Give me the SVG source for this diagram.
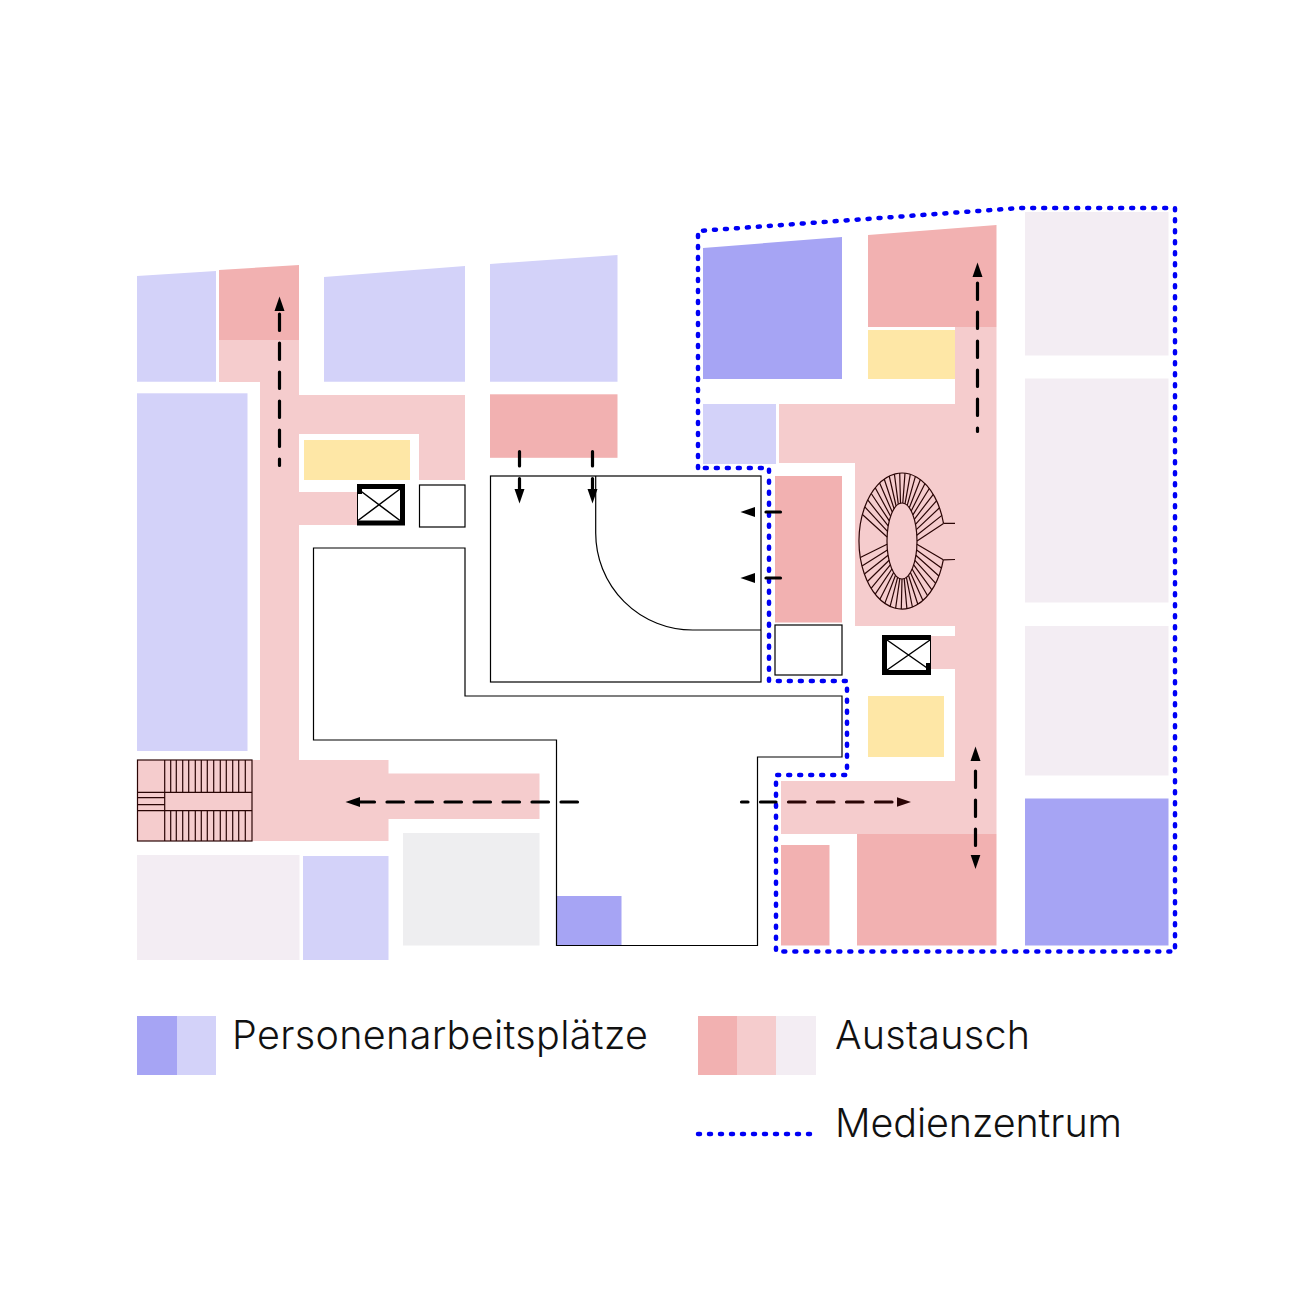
<svg xmlns="http://www.w3.org/2000/svg" width="1299" height="1299" viewBox="0 0 1299 1299">
<style>
.dr{fill:#f2b1b1}.mr{fill:#f5cccd}.lr{fill:#f3edf3}.db{fill:#a6a4f4}.lb{fill:#d3d2f9}.ye{fill:#fee7a6}.gr{fill:#eeeef0}
.ol{fill:none;stroke:#000;stroke-width:1.2}
.wb{fill:#fff;stroke:#000;stroke-width:1.2}
.st{fill:none;stroke:#2a0505;stroke-width:1.2}
.dot{fill:none;stroke:#0000f5;stroke-width:4.5;stroke-dasharray:2 9;stroke-linecap:round;stroke-linejoin:round}
.ar{fill:none;stroke:#000;stroke-width:3.200;stroke-dasharray:16.500 12.500;stroke-linecap:round}
.lab{font-family:"Inter","Liberation Sans",sans-serif;font-weight:300;font-size:39.500px;fill:#111}
</style>
<defs>
<marker id="ah" markerUnits="userSpaceOnUse" markerWidth="15" markerHeight="11" refX="0" refY="5.500" orient="auto-start-reverse"><path d="M0 0.500L14.500 5.500L0 10.500Z" fill="#000"/></marker>
<marker id="ahm" markerUnits="userSpaceOnUse" markerWidth="15" markerHeight="11" refX="0" refY="5.500" orient="auto"><path d="M0 0.500L14.500 5.500L0 10.500Z" fill="#2a0505"/></marker>
</defs>
<rect width="1299" height="1299" fill="#fff"/>
<g id="areas-left">
<polygon class="lb" points="137,276 216,271 216,381.700 137,381.700"/>
<polygon class="dr" points="219,270 299,265 299,340 219,340"/>
<polygon class="lb" points="324,277 465,266 465,381.700 324,381.700"/>
<polygon class="lb" points="490,264 617.500,255 617.500,381.700 490,381.700"/>
<rect class="lb" x="137" y="393.300" width="110.500" height="357.700"/>
<rect class="dr" x="490" y="394.300" width="127.500" height="63.500"/>
<rect class="ye" x="304" y="440" width="106" height="40"/>
<polygon class="mr" points="219,340 299,340 299,395 465,395 465,480 419,480 419,434 299,434 299,492 358,492 358,525 299,525 299,760 388.500,760 388.500,773.500 539.500,773.500 539.500,819 388.500,819 388.500,841 137,841 137,760 260,760 260,382 219,382"/>
<rect class="lr" x="137" y="855" width="162.500" height="105"/>
<rect class="lb" x="303" y="856" width="85.500" height="104"/>
<rect class="gr" x="403" y="833" width="136.500" height="112.500"/>
<rect class="db" x="557" y="896" width="64.500" height="49.500"/>
</g>
<g id="areas-right">
<polygon class="db" points="703,248 842,237 842,379 703,379"/>
<polygon class="dr" points="868,235 996.500,225 996.500,327 868,327"/>
<rect class="ye" x="868" y="330" width="87" height="49"/>
<rect class="lb" x="703" y="404" width="73" height="60"/>
<polygon class="mr" points="779,404 955,404 955,327 996.500,327 996.500,834 781,834 781,781 955,781 955,669 931,669 931,636 955,636 955,626 855,626 855,463 779,463"/>
<rect class="dr" x="775" y="476" width="67" height="146.500"/>
<rect class="ye" x="868" y="696" width="76" height="61"/>
<rect class="dr" x="781" y="845" width="48.500" height="100.500"/>
<rect class="dr" x="857" y="834" width="139.500" height="111.500"/>
<rect class="lr" x="1025" y="212" width="143.500" height="143.500"/>
<rect class="lr" x="1025" y="378.500" width="143.500" height="224"/>
<rect class="lr" x="1025" y="626" width="143.500" height="149.500"/>
<rect class="db" x="1025" y="798.500" width="143.500" height="147"/>
</g>
<g id="rooms">
<path class="ol" d="M313.500 548H465V696H842V757H757.500V945.500H556.500V740H313.500Z"/>
<rect class="ol" x="490.500" y="476" width="270.500" height="206"/>
<path class="ol" d="M595.700 476V533A97 97 0 0 0 692.700 630H761"/>
<rect class="wb" x="419.500" y="485" width="45.500" height="42"/>
<rect class="wb" x="775" y="625" width="67" height="50"/>
</g>
<g id="lift-left">
<rect x="357" y="484" width="48" height="41.500" fill="#000"/>
<path d="M362 489H400V520.500H358V494H362Z" fill="#fff"/>
<path d="M358 489L400 520.500M400 489L358 520.500" stroke="#000" stroke-width="1.500"/>
</g>
<g id="lift-right">
<rect x="882" y="635" width="49" height="40" fill="#000"/>
<path d="M887 640H930V663H926V670H887Z" fill="#fff"/>
<path d="M887 640L930 670M930 640L887 670" stroke="#000" stroke-width="1.500"/>
</g>
<g id="stair-left" class="st">
<rect x="137.500" y="760" width="114.500" height="81"/>
<path d="M164.700 760V841M137.500 792.300H252M137.500 810.700H252M137.500 797.700H164.700M137.500 804.700H164.700"/>
<path d="M170.700 760V792M176.300 760V792M182.700 760V792M188.700 760V792M195.300 760V792M201.300 760V792M207.300 760V792M213.700 760V792M220.300 760V792M226.300 760V792M232.700 760V792M238.700 760V792M245.300 760V792"/>
<path d="M170.700 811V841M176.300 811V841M182.700 811V841M188.700 811V841M195.300 811V841M201.300 811V841M207.300 811V841M213.700 811V841M220.300 811V841M226.300 811V841M232.700 811V841M238.700 811V841M245.300 811V841"/>
</g>
<g id="stair-spiral" class="st">
<path d="M943.500 523.400A43 68 0 1 0 943.300 559.800"/>
<ellipse cx="902" cy="541" rx="15" ry="38"/>
<path d="M943.500 523.400H955M943.300 559.800L955 559.500"/>
<path d="M862.400 514.500L887.100 537M864.800 506.900L887.500 531.300M867.700 499.900L888.200 525.900M871.200 493.500L889.300 520.800M875.200 487.800L890.600 516.200M879.600 483L892.300 512.100M884.200 479L894.100 508.700M889.200 476L896.100 506M894.400 474.100L898.300 504.200M899.700 473.100L900.500 503.200M905 473.100L902.800 503M910.300 474.300L905 503.800M915.400 476.400L907.200 505.400M920.400 479.500L909.300 507.800M925 483.600L911.200 511M929.300 488.500L912.900 514.900M933.300 494.300L914.300 519.300M936.700 500.700L915.500 524.300M939.500 507.800L916.300 529.600M941.900 515.400L916.800 535.300M943.500 523.400L917 541"/>
<path d="M943.300 559.800L916.900 544.300M941.400 568.100L916.600 549.900M938.900 576L915.900 555.200M935.700 583.400L914.900 560.300M931.900 589.900L913.700 564.900M927.600 595.700L912.100 569M922.900 600.500L910.400 572.500M917.800 604.200L908.500 575.300M912.400 607L906.400 577.300M906.900 608.600L904.200 578.600M901.300 609L902 579M895.600 608.300L899.800 578.600M890.100 606.300L897.600 577.300M884.800 603.400L895.500 575.300M879.900 599.300L893.600 572.500M875.200 594.200L891.900 569M871.100 588.300L890.300 564.900M867.400 581.500L889.100 560.300M864.400 574L888.100 555.200M862 566L887.400 549.900M860.300 557.500L887.100 544.300"/>
</g>
<g id="media-centre">
<path class="dot" d="M698 468V231L1020 208H1175V951.500H776V775H847V681H769V468Z"/>
</g>
<g id="connectors">
<path class="ar" marker-end="url(#ah)" stroke-dashoffset="10" d="M279.500 465.500V311"/>
<path class="ar" marker-end="url(#ah)" stroke-dashoffset="2" d="M519.500 451.500V489"/>
<path class="ar" marker-end="url(#ah)" stroke-dashoffset="2" d="M592.500 451.500V489"/>
<path class="ar" marker-end="url(#ah)" stroke-dashoffset="2" d="M780.500 512H755"/>
<path class="ar" marker-end="url(#ah)" stroke-dashoffset="2" d="M780.500 578H755"/>
<path class="ar" marker-end="url(#ah)" stroke-dashoffset="13" d="M977.500 431.500V277"/>
<path class="ar" marker-start="url(#ah)" marker-end="url(#ah)" stroke-dashoffset="19" d="M975.500 761V854.500"/>
<path class="ar" marker-end="url(#ah)" d="M577.500 802H360"/>
<path class="ar" stroke-dashoffset="10" d="M741.500 802H776"/>
<path class="ar" style="stroke:#2a0505" marker-end="url(#ahm)" d="M788.500 802H896.500"/>
</g>
<g id="legend">
<rect class="db" x="137" y="1016" width="40" height="59"/>
<rect class="lb" x="177" y="1016" width="39" height="59"/>
<text class="lab" x="232" y="1049" textLength="416">Personenarbeitsplätze</text>
<rect class="dr" x="698" y="1016" width="39" height="59"/>
<rect class="mr" x="737" y="1016" width="39" height="59"/>
<rect class="lr" x="776" y="1016" width="40" height="59"/>
<text class="lab" x="835" y="1049" textLength="195">Austausch</text>
<path class="dot" d="M698 1134H813"/>
<text class="lab" x="835" y="1137" textLength="287">Medienzentrum</text>
</g>
</svg>
